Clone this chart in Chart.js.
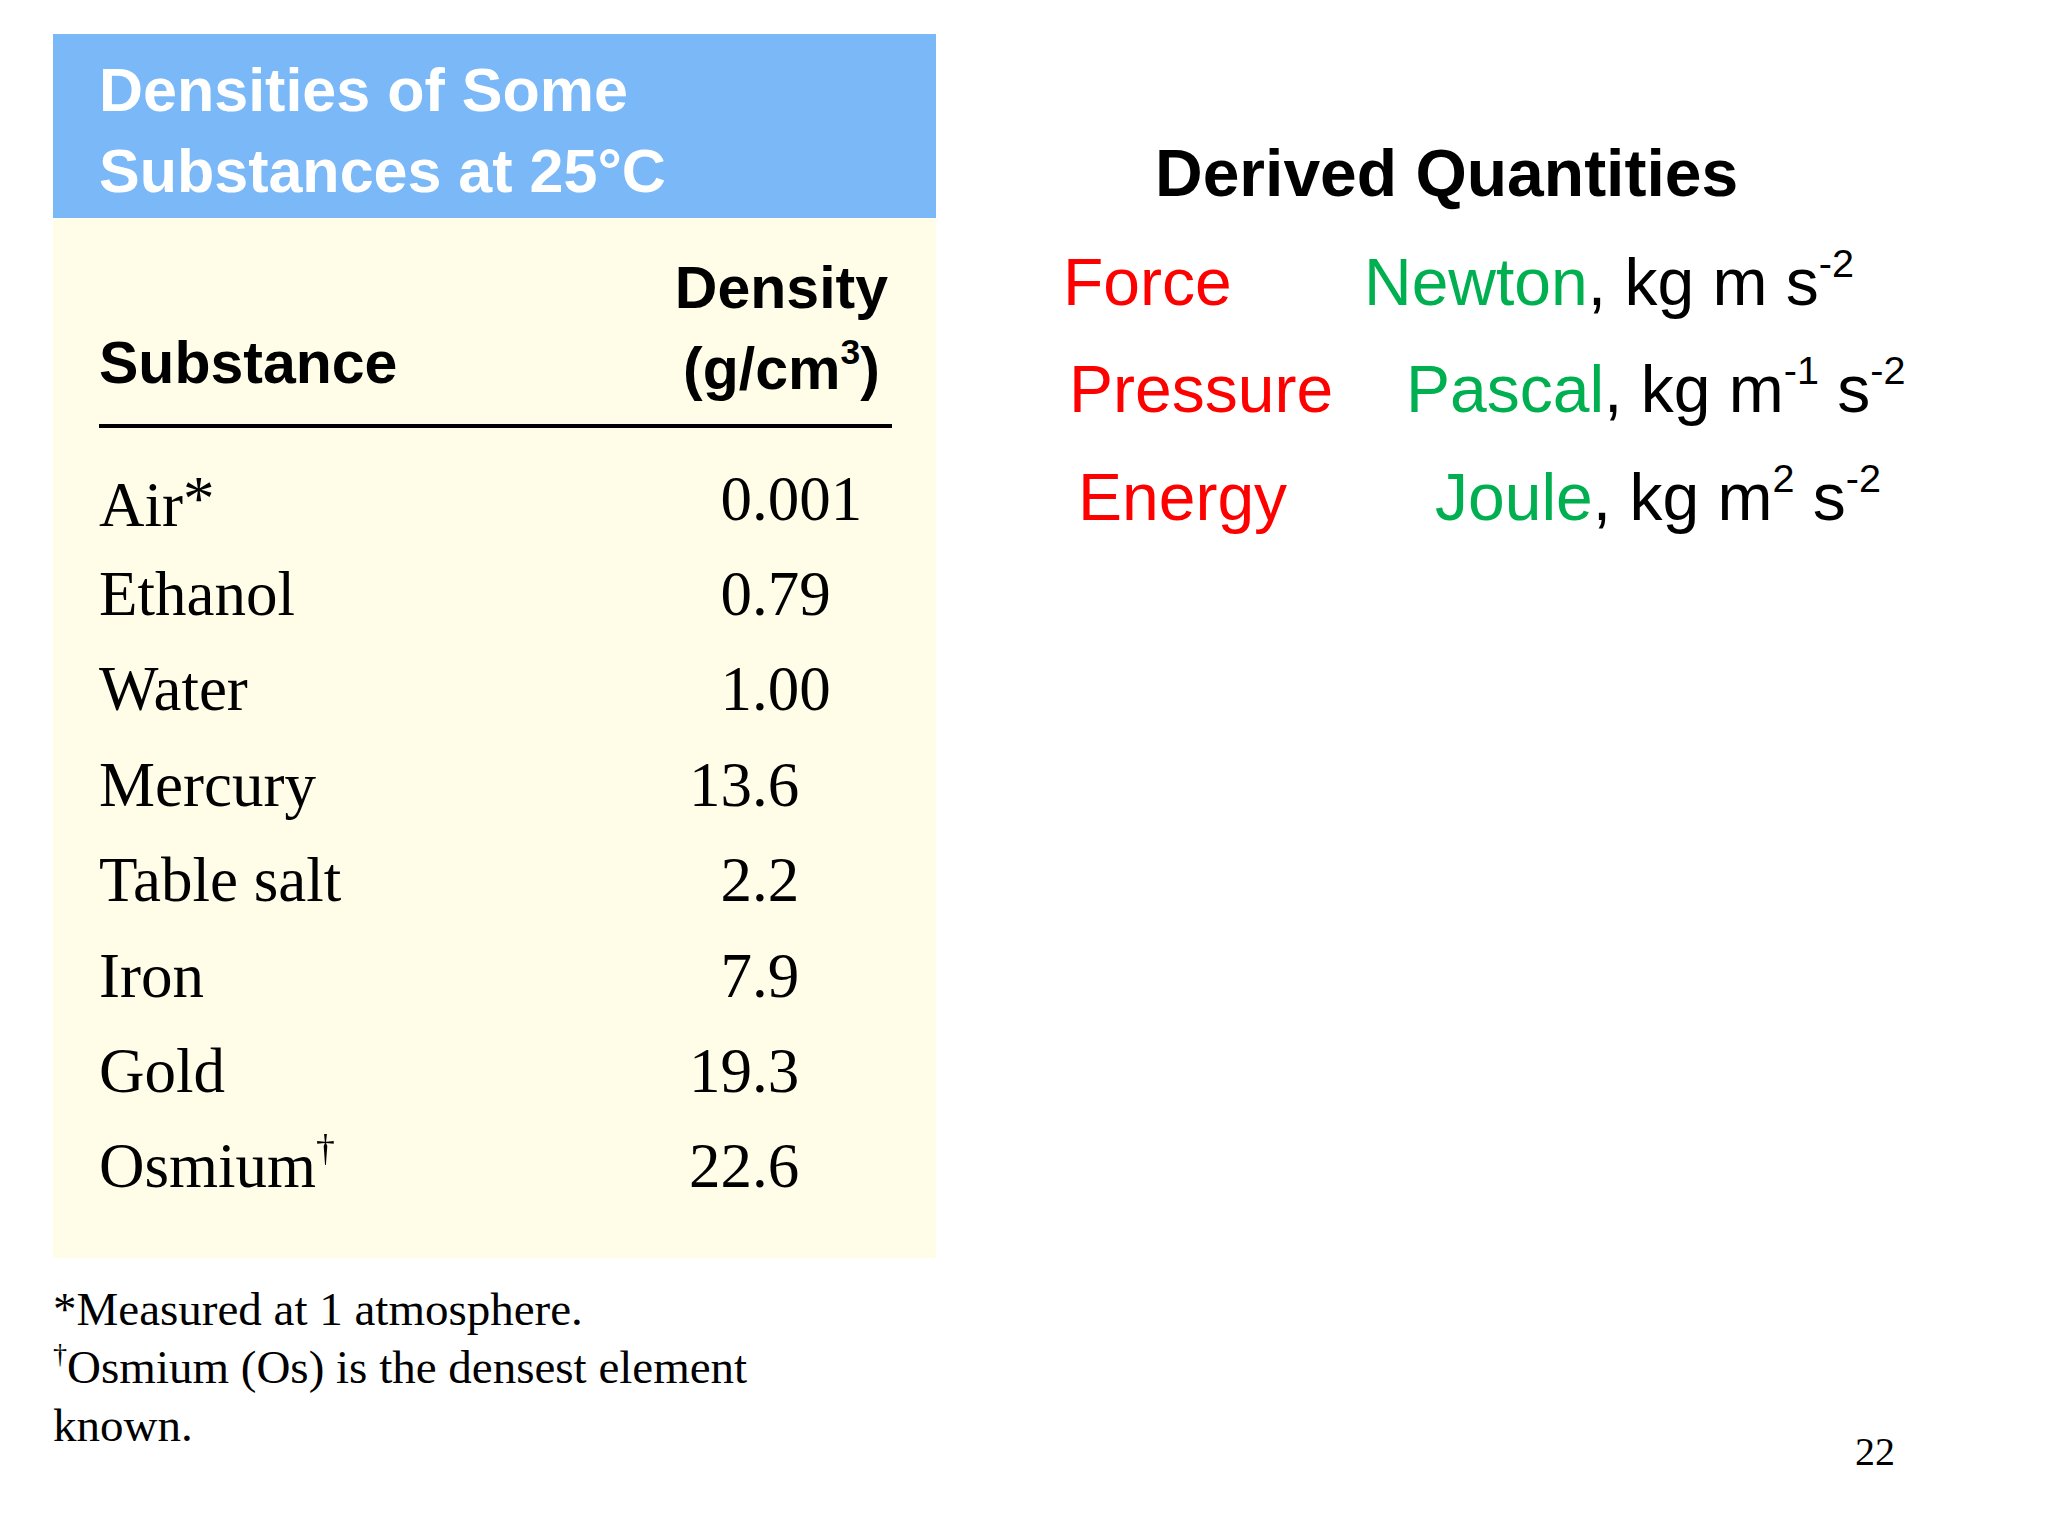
<!DOCTYPE html>
<html><head><meta charset="utf-8">
<script src="https://cdn.jsdelivr.net/npm/chart.js@4/dist/chart.umd.min.js"></script>
<style>
html,body{margin:0;padding:0;background:#fff;}
#page{position:relative;width:2048px;height:1536px;overflow:hidden;}
.a{position:absolute;white-space:nowrap;}
.ar{font-family:"Liberation Sans",Arial,sans-serif;}
.tm{font-family:"Liberation Serif","Times New Roman",serif;}
.red{color:#ff0000}.grn{color:#00b050}
sup{font-size:60%;vertical-align:0.7em;line-height:0}
</style></head><body>
<div id="page">
<div class="a" style="left:53px;top:34px;width:883px;height:184px;background:#7ab8f8"></div>
<div class="a" style="left:53px;top:218px;width:883px;height:1040px;background:#fffde8"></div>
<div class="a ar" style="left:99px;top:50px;font-size:61px;font-weight:bold;color:#fff;line-height:81px">Densities of Some<br>Substances at 25°C</div>
<div class="a ar" style="left:99px;top:328px;font-size:59px;font-weight:bold;line-height:70px">Substance</div>
<div class="a ar" style="right:1160px;top:248px;font-size:59px;font-weight:bold;line-height:81px;text-align:center">Density<br>(g/cm<sup>3</sup>)</div>
<div class="a" style="left:99px;top:424px;width:793px;height:4px;background:#000"></div>
<canvas id="c" style="position:absolute;left:53px;top:451px;width:883px;height:763px"></canvas>
<div id="rows"></div>
<div class="a tm" style="left:53px;top:1280px;font-size:47px;line-height:58px">*Measured at 1 atmosphere.<br><sup>†</sup>Osmium (Os) is the densest element<br>known.</div>
<div class="a ar" style="left:1155px;top:135px;font-size:66px;font-weight:bold">Derived Quantities</div>
<div id="dq"></div>
<div class="a tm" style="left:1855px;top:1428px;font-size:40px">22</div>
</div>
<script>
const substances=["Air*","Ethanol","Water","Mercury","Table salt","Iron","Gold","Osmium†"];
const densities=["0.001","0.79","1.00","13.6","2.2","7.9","19.3","22.6"];
const quantities=["Force","Pressure","Energy"];
const units=["Newton","Pascal","Joule"];
const unitExpr=["kg m s<sup>-2</sup>","kg m<sup>-1</sup> s<sup>-2</sup>","kg m<sup>2</sup> s<sup>-2</sup>"];
const qx=[1063,1069,1078], ux=[1364,1406,1435], qy=[306,413,521];

const chart=new Chart(document.getElementById('c'),{
 type:'bar',
 data:{labels:substances,datasets:[{data:substances.map(()=>0),backgroundColor:'rgba(0,0,0,0)'}]},
 options:{indexAxis:'y',responsive:false,animation:false,devicePixelRatio:1,
  layout:{padding:0},
  plugins:{legend:{display:false},tooltip:{enabled:false}},
  scales:{y:{display:false,offset:true},x:{display:false}}}
});
const c=document.getElementById('c'); c.width=883;c.height=763;chart.resize(883,763);
const rows=document.getElementById('rows');
substances.forEach((s,i)=>{
 const y=451+chart.scales.y.getPixelForValue(i);
 const name=s.replace('†','<sup>†</sup>').replace('*','<span style="vertical-align:0.1em">*</span>');
 const [ip,fp]=densities[i].split('.');
 rows.innerHTML+=`<div class="a tm" style="left:99px;top:${y-38}px;font-size:63px;line-height:76px">${name}</div>`+
  `<div class="a tm" style="right:${2048-752}px;top:${y-38}px;font-size:63px;line-height:76px">${ip}</div>`+
  `<div class="a tm" style="left:752px;top:${y-38}px;font-size:63px;line-height:76px">.${fp}</div>`;
});
const dq=document.getElementById('dq');
quantities.forEach((q,i)=>{
 dq.innerHTML+=`<div class="a ar red" style="left:${qx[i]}px;top:${qy[i]-62}px;font-size:66px;line-height:76px">${q}</div>`+
 `<div class="a ar" style="left:${ux[i]}px;top:${qy[i]-62}px;font-size:66px;line-height:76px"><span class="grn">${units[i]}</span>, ${unitExpr[i]}</div>`;
});
</script>
</body></html>
